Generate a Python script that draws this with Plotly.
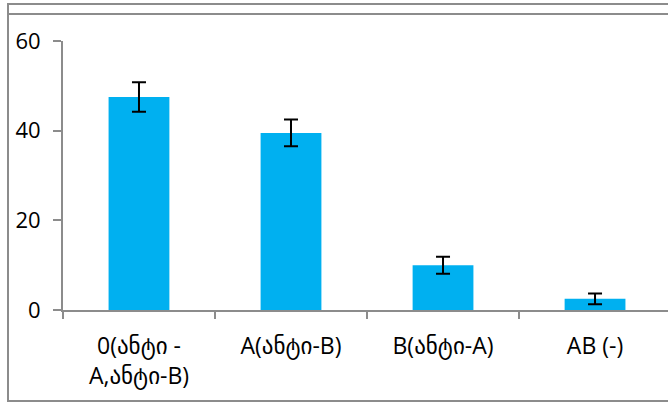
import plotly.graph_objects as go

# Blood group categories and values
categories = ['0(ანტი -<br>A,ანტი-B)', 'A(ანტი-B)', 'B(ანტი-A)', 'AB (-)']
values = [47.5, 39.5, 10.0, 2.5]
errors = [3.3, 3.0, 1.9, 1.2]
y_ticks = [0, 20, 40, 60]

positions = list(range(len(categories)))
boundaries = [p - 0.5 for p in positions]

fig = go.Figure()

fig.add_trace(go.Bar(
    x=positions,
    y=values,
    width=0.4,
    marker=dict(color='#00B0F0', line=dict(width=0)),
    error_y=dict(type='data', array=errors, visible=True,
                 color='black', thickness=2, width=7),
    showlegend=False,
))

# invisible trace so the second x axis (tick marks between categories) is drawn
fig.add_trace(go.Scatter(x=[boundaries[0]], y=[0], xaxis='x2', mode='markers',
                         marker=dict(opacity=0), showlegend=False, hoverinfo='skip'))

# the original chart is cut off on the right, inside the last category
xrange = [-0.5, 3.48]
font = dict(family='Open Sans, DejaVu Sans, sans-serif', color='black')

# paper = the bordered chart area, the axes sit inside it
x_domain = [0.0833, 1]
y_domain = [0.229, 0.907]
border = dict(color='#8c8c8c', width=2)

fig.update_layout(
    width=668, height=403,
    margin=dict(l=8, r=0, t=4, b=2),
    plot_bgcolor='white',
    paper_bgcolor='white',
    font=font,
    xaxis=dict(
        domain=x_domain,
        range=xrange,
        tickvals=positions,
        ticktext=categories,
        ticks='',
        showline=True, linecolor='#8c8c8c', linewidth=2,
        showgrid=False, zeroline=False,
        tickfont=dict(size=23),
        ticklabelstandoff=14,
        automargin=False,
    ),
    xaxis2=dict(
        domain=x_domain,
        range=xrange,
        overlaying='x',
        side='bottom',
        tickvals=boundaries,
        showticklabels=False,
        ticks='outside', ticklen=8, tickwidth=2, tickcolor='#8c8c8c',
        showline=False, showgrid=False, zeroline=False,
    ),
    yaxis=dict(
        domain=y_domain,
        range=[0, 60],
        tickvals=y_ticks,
        ticks='outside', ticklen=8, tickwidth=2, tickcolor='#8c8c8c',
        showline=True, linecolor='#8c8c8c', linewidth=2,
        showgrid=False, zeroline=False,
        tickfont=dict(size=22),
        ticklabelstandoff=8,
        automargin=False,
    ),
    # chart border, running off the right edge like the cropped original
    shapes=[
        dict(type='rect', xref='paper', yref='paper',
             x0=0, x1=1.05, y0=0, y1=1, line=border),
        dict(type='line', xref='paper', yref='paper',
             x0=0, x1=1.05, y0=0.975, y1=0.975, line=border),
    ],
)

fig.write_html("out.html", config={'displayModeBar': False},
               post_script="document.body.style.margin='0';")
